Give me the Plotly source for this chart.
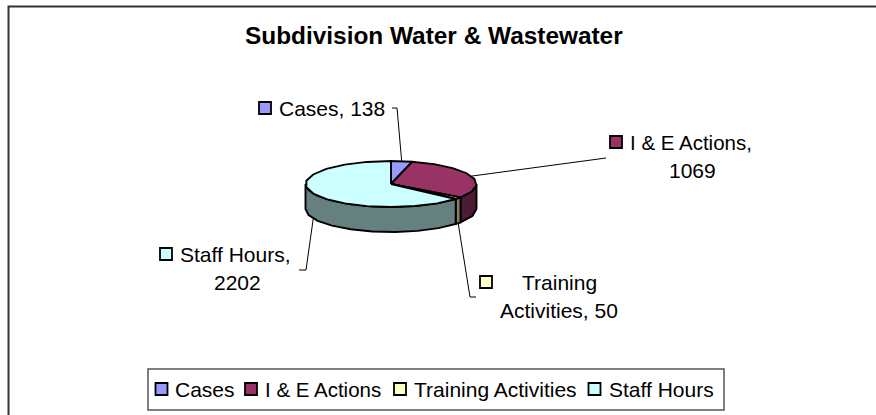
import math
import plotly.graph_objects as go

# ---- data ----
categories = ["Cases", "I & E Actions", "Training Activities", "Staff Hours"]
values = [138, 1069, 50, 2202]
title_text = "Subdivision Water & Wastewater"
top_colors = ["#9999FF", "#993366", "#FFFFCC", "#CCFFFF"]
side_colors = ["#4D4D80", "#4D1A33", "#808066", "#668080"]

# ---- layout constants (pixel space) ----
W, H = 876, 415
CX, CY, RX, RY, DEPTH = 391, 184, 85.5, 23, 25
FONT = "Liberation Sans, Arial, sans-serif"
TEXT_SIZE = 21
STEP = 16


def pt(angle, drop=0):
    a = math.radians(angle)
    return CX + RX * math.sin(a), CY - RY * math.cos(a) + drop


def arc(a0, a1, drop=0):
    n = max(1, round(abs(a1 - a0) / STEP))
    return [pt(a0 + (a1 - a0) * i / n, drop) for i in range(n + 1)]


total = sum(values)
spans, cum = [], 0.0
for v in values:
    start = cum
    cum += v / total * 360
    spans.append((start, cum))

fig = go.Figure()

# side walls (only the front half, angles 90..270, is visible)
for (a0, a1), col in zip(spans, side_colors):
    lo, hi = max(a0, 90), min(a1, 270)
    if lo >= hi:
        continue
    pts = arc(lo, hi) + arc(hi, lo, DEPTH)
    pts.append(pts[0])
    fig.add_trace(go.Scatter(x=[p[0] for p in pts], y=[p[1] for p in pts], mode="lines",
                             fill="toself", fillcolor=col, line=dict(color="black", width=1.9),
                             hoverinfo="skip", showlegend=False))

# top wedges
for name, (a0, a1), col in zip(categories, spans, top_colors):
    pts = [(CX, CY)] + arc(a0, a1) + [(CX, CY)]
    fig.add_trace(go.Scatter(x=[p[0] for p in pts], y=[p[1] for p in pts], mode="lines", name=name,
                             fill="toself", fillcolor=col, line=dict(color="black", width=1.9),
                             hoverinfo="skip", showlegend=False))

# leader lines: start on the slice edge at its mid angle
mids = [(a + b) / 2 for a, b in spans]
label_elbows = [[(397, 108), (392, 108)], [(606, 158)], [(470, 297), (476, 297)], [(306, 270), (299, 270)]]
drops = [0, 0, DEPTH, DEPTH]
for mid, elbow, drop in zip(mids, label_elbows, drops):
    pts = [pt(mid, drop)] + elbow
    fig.add_trace(go.Scatter(x=[p[0] for p in pts], y=[p[1] for p in pts], mode="lines",
                             line=dict(color="black", width=1), hoverinfo="skip", showlegend=False))

# swatches beside the data labels and in the legend
label_swatches = [(265, 108), (616, 142), (486, 282), (166, 254)]
legend_swatches = [(161.5, 389), (251, 389), (400, 389), (594.5, 389)]
legend_text_x = [173, 263, 412, 607]
for sw in (label_swatches, legend_swatches):
    fig.add_trace(go.Scatter(x=[p[0] for p in sw], y=[p[1] for p in sw], mode="markers",
                             marker=dict(symbol="square", size=12, color=top_colors,
                                         line=dict(color="black", width=1.8)),
                             hoverinfo="skip", showlegend=False))

annotations = []


def text(x, y, s, anchor="left", size=TEXT_SIZE, bold=False):
    annotations.append(dict(x=x, y=y, xref="x", yref="y", text=f"<b>{s}</b>" if bold else s,
                            showarrow=False, xanchor=anchor, yanchor="middle",
                            font=dict(family=FONT, size=size, color="black")))


text(434, 35, title_text, "center", 24.4, True)
text(277, 108, f"{categories[0]}, {values[0]}")
text(628, 142, f"{categories[1]},", size=20.5)
text(692, 170, f"{values[1]}", "center")
text(559, 282, categories[2].split()[0], "center")
text(559, 310, f"{categories[2].split()[1]}, {values[2]}", "center")
text(178, 254, f"{categories[3]},")
text(237, 282, f"{values[3]}", "center")
legend_sizes = [TEXT_SIZE, 20.5, TEXT_SIZE, TEXT_SIZE]
for tx, name, fs in zip(legend_text_x, categories, legend_sizes):
    text(tx, 389, name, size=fs)

shapes = [
    dict(type="path", path=f"M 8.5 {H} L 8.5 6.5 L {W} 6.5", line=dict(color="#333333", width=2), layer="below"),
    dict(type="rect", x0=148, x1=724, y0=369, y1=410, line=dict(color="#555555", width=1.5), layer="below"),
]

fig.update_layout(
    width=W, height=H, margin=dict(l=0, r=0, t=0, b=0),
    paper_bgcolor="white", plot_bgcolor="white", showlegend=False,
    xaxis=dict(range=[0, W], visible=False, fixedrange=True),
    yaxis=dict(range=[H, 0], visible=False, fixedrange=True),
    annotations=annotations, shapes=shapes,
)
fig.write_html("out.html", config=dict(displayModeBar=False),
               post_script="document.body.style.margin='0';")
